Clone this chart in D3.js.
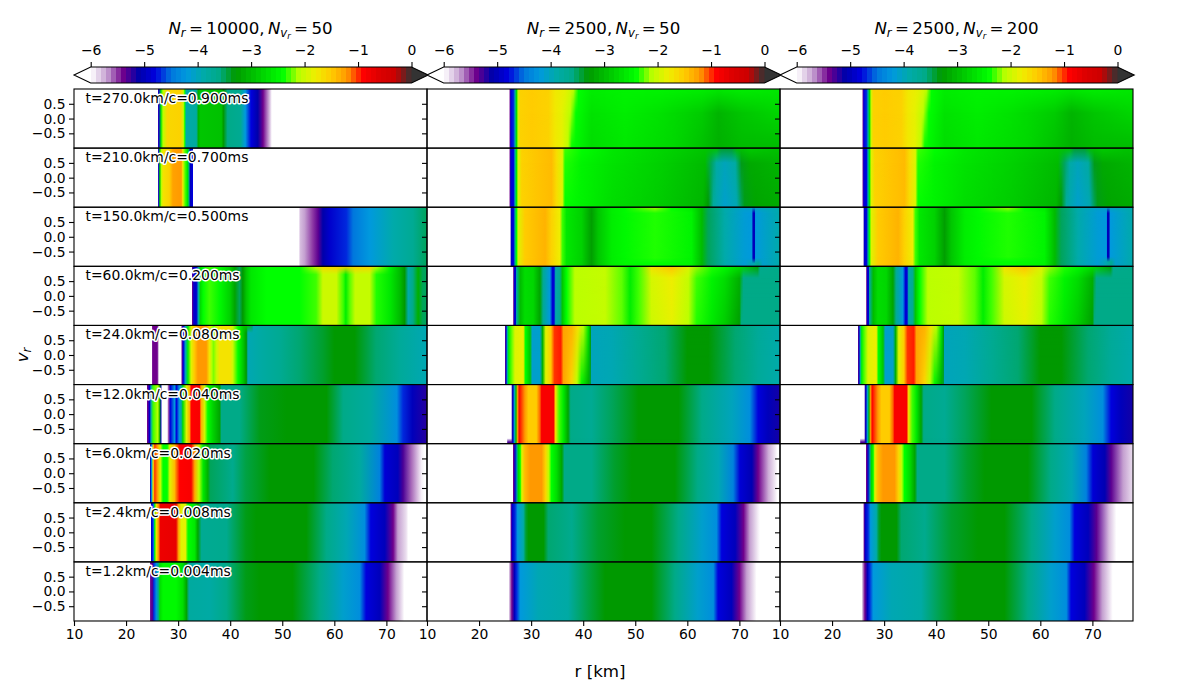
<!DOCTYPE html>
<html>
<head>
<meta charset="utf-8">
<script src="https://cdn.jsdelivr.net/npm/d3@7"></script>
<style>
  body { margin: 0; background: #fff; }
  text { font-family: "DejaVu Sans", sans-serif; }
</style>
</head>
<body>
<div id="chart"></div>
<script>
// colour map, log value -> colour
const cmapValues = [-6, -5.7, -5.4, -5.1, -4.8, -4.5, -4.2, -3.9, -3.6, -3.3, -3, -2.7, -2.4, -2.1, -1.8, -1.5, -1.2, -0.9, -0.6, -0.3, 0];
const cmapColors = ['#ffffff', '#c49fd0', '#6f008c', '#0000aa', '#0000dd', '#0077dd', '#0099dd', '#00aaaa', '#00aa88', '#009900', '#00bb00', '#00dd00', '#00ff00', '#bbff00', '#eeee00', '#ffcc00', '#ff9900', '#ff0000', '#dd0000', '#cc0000', '#333333'];

const columnTitles = [['10000', '50'], ['2500', '50'], ['2500', '200']];
const timeLabels = ['t=270.0km/c=0.900ms', 't=210.0km/c=0.700ms', 't=150.0km/c=0.500ms', 't=60.0km/c=0.200ms', 't=24.0km/c=0.080ms', 't=12.0km/c=0.040ms', 't=6.0km/c=0.020ms', 't=2.4km/c=0.008ms', 't=1.2km/c=0.004ms'];
const colorbarTicks = [-6, -5, -4, -3, -2, -1, 0];
const rTicks = [10, 20, 30, 40, 50, 60, 70];
const vrTicks = [-0.5, 0, 0.5];

// profiles: [r in km, log10 f]
// Nr=10000, Nvr=50
const a_t270 = [[26.1,-6],[26.15,-5.3],[26.3,-4.8],[26.7,-2.6],[27.1,-2.1],[27.9,-1.6],[30.5,-1.55],[31,-2],[31.3,-2.4],[31.5,-3.9],[33.5,-3.8],[33.9,-3.1],[34.3,-2.9],[38.3,-2.95],[38.7,-3.3],[39.5,-3.6],[42,-3.7],[42.9,-4.2],[44,-4.8],[45.3,-5.1],[46.3,-5.4],[47.6,-5.8],[48,-6]];
const a_t210 = [[26.1,-6],[26.15,-5.3],[26.3,-4.7],[26.45,-2.9],[26.8,-2.1],[27.1,-1.7],[28.3,-1.55],[29,-1.25],[30.6,-1.2],[30.9,-1.8],[31.4,-2.3],[31.8,-2.6],[32.1,-3.6],[32.3,-5],[32.8,-4.8],[32.9,-6]];
const a_t150 = [[53.2,-6],[53.4,-5.8],[54.3,-5.7],[55.9,-5.5],[56.9,-5.35],[57.8,-5.1],[59.1,-4.9],[62.3,-4.7],[63.6,-4.5],[66.8,-4.2],[71.3,-3.9],[75.1,-3.7],[77.8,-3.5]];
const a_t60_left = [[32.6,-6],[32.7,-5.4],[33,-4.9],[33.5,-4.9],[33.9,-3.9],[34.3,-2.7],[34.8,-2.4],[36,-2.3],[38,-2.45],[39.9,-2.8],[40.9,-3.2],[41.8,-3.5],[42.4,-3.3],[43.1,-2.9],[44,-2.6],[47,-2.4],[53.3,-2.4]];
const a_t60_top = [...a_t60_left, [56.5,-1.95],[57.8,-1.6],[60.4,-1.5],[66.8,-1.6],[68.1,-2.1],[70.7,-2.5],[72.6,-3],[73.5,-3.3],[74.2,-3.9],[75.1,-3.6],[76.1,-3.1],[77,-3.5]];
const a_t60_main = [...a_t60_left, [56.5,-2.3],[57.8,-2],[60.4,-2],[61.7,-2.3],[62.2,-2.55],[63,-2.25],[64,-2.05],[66.8,-2.05],[68.1,-2.35],[70.7,-2.6],[72.6,-3],[73.5,-3.3],[74.2,-3.9],[75.1,-3.6],[76.1,-3.1],[77,-3.5]];
const a_t24_left = [[24.9,-6],[25,-5.6],[25.1,-5.4],[26,-5.4],[26.2,-5.7],[26.3,-6],[30.6,-6],[30.7,-5.4],[31,-4.8],[31.4,-4],[31.9,-2.5],[32.5,-1.9],[33.1,-1.5],[33.8,-1.2],[35.4,-1.2],[36,-1.7],[36.4,-2.1],[36.8,-2.2],[37.4,-2],[38,-1.7],[39.9,-1.7],[40.5,-2],[41.5,-2.4],[42.5,-2.9]];
const a_t24_right = [[45.7,-3.85],[49.5,-3.7],[53.3,-3.55],[57.8,-3.4],[60,-3.3],[63.9,-3.3],[68,-3.55],[72.6,-3.75],[77.7,-3.95]];
const a_t24_top = [...a_t24_left, [43.6,-2.9],[44.2,-3.5],[44.5,-3.95], ...a_t24_right];
const a_t24_main = [...a_t24_left, [43.1,-3.3],[43.4,-3.95], ...a_t24_right];
const a_t12 = [[24,-6],[24.1,-5.4],[24.5,-4.9],[24.8,-3.9],[25.2,-2.3],[26.1,-2.1],[26.5,-3.2],[26.7,-5],[26.9,-6],[27.9,-6],[28.2,-5.5],[28.5,-4.8],[29.3,-4.2],[29.7,-4.8],[30.2,-4.2],[30.6,-3.8],[30.9,-2.7],[31.6,-1.9],[32.2,-1.3],[32.5,-0.9],[34.1,-0.85],[34.4,-1.3],[35.1,-2],[35.7,-2.4],[36.7,-2.8],[38,-3.2],[38.3,-3.6],[41.8,-3.6],[45.7,-3.35],[50.8,-3.3],[58.5,-3.3],[61.7,-3.6],[66.8,-3.8],[72,-4.3],[73.2,-4.7],[75,-5],[77.7,-5.2]];
const a_t6 = [[24.6,-6],[24.7,-5],[24.9,-4.2],[25.2,-1.8],[25.5,-1],[26.1,-1.3],[26.6,-2],[27.1,-2.4],[27.9,-2.4],[28.4,-1.9],[29.3,-1.4],[30.3,-0.9],[32.5,-0.85],[33.2,-1.3],[34,-2.1],[34.8,-2.6],[35.7,-3.1],[36.2,-3.5],[40.5,-3.65],[43,-3.45],[47.6,-3.3],[56,-3.3],[59.7,-3.55],[64.9,-3.8],[68.7,-4.4],[69.7,-4.85],[72.2,-5],[73.2,-5.3],[74.8,-5.6],[76.7,-5.95],[77.3,-6]];
const a_t2_4 = [[24.7,-6],[24.8,-5],[25,-4.8],[25.3,-4.5],[25.5,-2.4],[25.8,-1.7],[26.2,-1.2],[26.6,-0.75],[29.6,-0.7],[30.1,-1.3],[30.6,-1.9],[31.4,-1.85],[31.9,-2.4],[33.2,-2.6],[33.8,-3.2],[34.5,-3.7],[39.3,-3.65],[43,-3.35],[45,-3.3],[54.6,-3.3],[58.5,-3.6],[62.3,-3.95],[65.8,-4.3],[67,-4.8],[69.7,-5],[71.3,-5.4],[72.2,-5.7],[73.8,-5.9],[74.2,-6]];
const a_t1_2 = [[24.6,-6],[24.7,-5.4],[25.1,-5.3],[25.3,-4.7],[25.8,-4.3],[26.2,-3.7],[26.5,-2.7],[27.1,-2.45],[29.6,-2.45],[30.9,-2.7],[31.6,-3.2],[32.1,-3.8],[36,-3.85],[39.3,-3.6],[43,-3.35],[45.6,-3.3],[52,-3.3],[57.2,-3.6],[61.7,-4.1],[64.9,-4.3],[66.1,-4.8],[68.7,-5],[70.3,-5.4],[71.9,-5.7],[73.2,-5.95],[73.4,-6]];

// Nr=2500, Nvr=50
const b_t270_left = [[25.8,-6],[25.9,-5.4],[26.1,-4.8],[26.6,-4.7],[26.9,-3.9],[27.2,-2.7],[27.5,-2],[27.9,-1.55],[30.1,-1.5],[33.3,-1.55],[34.6,-1.75]];
const b_t270_top = [...b_t270_left, [36.5,-1.85],[38.1,-2.05],[39.1,-2.4],[41.6,-2.55],[48,-2.5],[54.4,-2.5],[62.8,-2.55],[66,-2.6],[70.4,-2.55],[77.9,-2.6]];
const b_t270_mid = [...b_t270_left, [35.9,-1.85],[37.5,-2.1],[38.6,-2.4],[41.6,-2.65],[48,-2.55],[54.4,-2.65],[62.8,-2.85],[66,-3.05],[70.4,-2.9],[77.9,-2.75]];
const b_t270_bot = [...b_t270_left, [35.9,-1.85],[37.1,-2.1],[37.8,-2.4],[41.6,-2.7],[48,-2.6],[57.6,-2.75],[62.8,-2.95],[66,-3.1],[70.4,-3],[77.9,-3]];
const b_t210_left = [[25.8,-6],[25.9,-5.4],[26.1,-4.85],[26.6,-4.8],[26.9,-3.9],[27.2,-2.6],[27.5,-1.9],[28.2,-1.55],[31.4,-1.45],[33.9,-1.4],[34.9,-1.65],[36,-1.9]];
const b_t210_top = [...b_t210_left, [36.5,-2.3],[39.7,-2.4],[45.5,-2.6],[54.4,-2.75],[63.4,-2.9],[65.6,-2.95],[66.5,-3.4],[68.5,-3.4],[69.5,-3],[72,-2.85],[77.9,-2.95]];
const b_t210_mid = [...b_t210_left, [36.5,-2.35],[39.7,-2.5],[45.5,-2.65],[54.4,-2.8],[63.4,-3],[64.6,-3.5],[65.6,-3.85],[67.2,-4],[69.2,-3.85],[70.4,-3.35],[72,-3.15],[77.9,-3.05]];
const b_t210_bot = [...b_t210_left, [36.5,-2.4],[45.5,-2.7],[54.4,-2.85],[63,-3.05],[64,-3.3],[65,-3.8],[67.2,-4.1],[69.5,-3.95],[71,-3.35],[73,-3.2],[77.9,-3.15]];
const b_t150_left = [[26,-6],[26.1,-5.2],[26.2,-4.9],[26.6,-4.8],[26.9,-3.7],[27.2,-2.4],[27.5,-1.9],[28.8,-1.5],[32.7,-1.35],[33.9,-1.55],[35.5,-1.8],[36,-2.3],[36.8,-2.6],[39.7,-2.8],[41.6,-3.25],[42.9,-2.9],[45.5,-2.55],[48,-2.45]];
const b_t150_top = [...b_t150_left, [53.8,-2.15],[57,-2.4],[60.8,-2.6],[62.8,-3],[64,-3.5],[67.2,-3.9],[71,-4.1],[77.9,-3.9]];
const b_t150_mid = [...b_t150_left, [53.8,-2.35],[60.8,-2.5],[62.8,-3],[64,-3.5],[67.2,-3.9],[71,-4.15],[72.4,-4.2],[72.6,-5],[72.9,-5],[73.1,-4.2],[74.5,-4.1],[77.9,-3.9]];
const b_t150_bot = [...b_t150_left, [53.8,-2.4],[60.8,-2.5],[62.8,-3],[64,-3.5],[67.2,-3.9],[71,-4.15],[72.6,-3.95],[73.6,-3.7],[74.5,-4.1],[77.9,-3.9]];
const b_t60_left = [[26.5,-6],[26.6,-5.5],[26.8,-4.9],[27,-4.9],[27.2,-3.8],[27.9,-3],[28.8,-2.7],[30.4,-2.75],[31.7,-3.2],[32.3,-3.7],[33.6,-4.2],[34.1,-4.85],[34.4,-4.85],[34.7,-3.9],[35.5,-3.7],[36,-2.9],[36.8,-2.4],[38.4,-2.1],[44.2,-2.05],[47.4,-2.25],[49,-2.55],[50.6,-2.3]];
const b_t60_top = [...b_t60_left, [53.1,-1.7],[57,-1.45],[60.2,-1.9],[64.7,-2.35],[67.2,-2.45],[70,-2.7],[73.5,-3.2],[74,-3.65],[77.9,-3.6]];
const b_t60_mid = [...b_t60_left, [53.1,-1.95],[57,-1.8],[60.2,-2.05],[61.8,-2.3],[64.7,-2.5],[67.2,-2.7],[70,-3.1],[70.8,-3.6],[77.9,-3.6]];
const b_t60_bot = [...b_t60_left, [53.1,-2],[57,-1.85],[60.2,-2.1],[61.8,-2.35],[64.7,-2.6],[67.2,-2.85],[70,-3.25],[70.4,-3.6],[77.9,-3.6]];
const b_t24_left = [[25,-6],[25.05,-5.3],[25.2,-4.8],[25.4,-3.9],[25.7,-2.5],[26.4,-2.2],[26.9,-1.9],[28.5,-1.8],[28.9,-2.4],[29.8,-2.9],[30.2,-4.1],[31.7,-4.1],[32.2,-3.1],[32.8,-1.9],[33.8,-1.5],[34.5,-1],[35.7,-0.95],[36.2,-1.25]];
const b_t24_right = [[41.5,-4],[45.5,-3.95],[50.6,-3.7],[55.7,-3.55],[60,-3.3],[64,-3.3],[69.2,-3.55],[73.6,-3.75],[77.9,-3.9]];
const b_t24_top = [...b_t24_left, [37.8,-1.35],[39,-1.7],[40,-2.1],[41,-2.6],[41.4,-3.2], ...b_t24_right];
const b_t24_bot = [...b_t24_left, [37.8,-1.6],[38.8,-2.1],[39.7,-2.5],[41,-3.1],[41.4,-3.4], ...b_t24_right];
const b_t12 = [[26.2,-6],[26.3,-5.2],[26.5,-4.9],[26.8,-4],[27.1,-3],[27.4,-1.2],[27.7,-0.9],[28.8,-1.2],[29.5,-1.5],[31,-1.5],[31.7,-1.1],[32,-0.85],[34.3,-0.85],[34.7,-1.7],[35.4,-2.3],[36.2,-2.6],[37.1,-3.2],[37.6,-3.6],[41.6,-3.7],[45.5,-3.5],[50.6,-3.3],[58.3,-3.3],[62.8,-3.6],[68.5,-4],[72,-4.3],[73.6,-4.8],[75.5,-5],[77.9,-5.15]];
const b_t12_foot = [[25.3,-6],[25.5,-5.3],[26.2,-5.3], ...b_t12.slice(2)];
const b_t6_body = [[26.5,-6],[26.6,-5.4],[26.9,-4.9],[27.3,-3.8],[27.5,-2.8],[27.9,-2.4],[28.2,-1.9],[28.8,-1.4],[29.8,-1.2],[32,-1.2],[32.8,-1.6],[33.4,-2.1],[33.9,-2.4],[34.9,-2.7],[35.9,-3.2],[36.4,-3.6],[41.6,-3.6],[46,-3.4],[49.3,-3.3],[57.6,-3.3],[62,-3.6],[66,-3.95],[68.8,-4.4],[70.1,-4.85],[72.4,-5.05]];
const b_t6_tail = [[73.6,-5.4],[75.6,-5.75],[77,-5.95],[77.3,-6]];
const b_t2_4_body = [[26,-6],[26.1,-5.4],[26.4,-4.9],[26.9,-4.7],[27.4,-4.2],[28.5,-3.9],[29,-3.4],[29.5,-3.3],[32.4,-3.3],[33.3,-3.55],[37.8,-3.65],[42.9,-3.4],[48,-3.3],[53.1,-3.3],[58.3,-3.6],[62.8,-4.1],[65.6,-4.3],[66.6,-4.8],[69.2,-5]];
const b_t2_4_tail = [[70.8,-5.4],[72,-5.7],[73.6,-5.95],[74,-6]];
const b_t1_2_body = [[25.7,-6],[25.9,-5.7],[26.3,-5.4],[26.8,-5],[27.2,-4.7],[27.9,-4.2],[31.4,-3.95],[37.1,-3.85],[41,-3.45],[44.2,-3.3],[53.1,-3.3],[57.6,-3.6],[62,-4.1],[65,-4.3],[65.9,-4.8],[68.5,-5]];
const b_t1_2_tail = [[70,-5.4],[71.4,-5.7],[73,-5.95],[73.3,-6]];

// Nr=2500, Nvr=200, the same as above except where it was read differently
const c_t150_mid = [...b_t150_left, [53.8,-2.35],[60.8,-2.5],[62.8,-3],[64,-3.5],[67.2,-3.9],[71,-4.15],[72.7,-4.2],[72.9,-5],[73.2,-5],[73.4,-4.2],[74.8,-4.1],[77.9,-3.9]];
const c_t6_tail = [[73.6,-5.35],[75.9,-5.7],[77.9,-5.9]];
const c_t2_4_tail = [[70.8,-5.35],[73.2,-5.8],[74.6,-6]];
const c_t1_2_tail = [[70.3,-5.4],[71.9,-5.7],[73.9,-6]];

// one entry per panel, each entry is [vr, profile] from the top of the panel down
const column1 = [
  [[1, a_t270]],
  [[1, a_t210]],
  [[1, a_t150]],
  [[1, a_t60_top], [0.72, a_t60_main]],
  [[1, a_t24_top], [0.75, a_t24_main]],
  [[1, a_t12]],
  [[1, a_t6]],
  [[1, a_t2_4]],
  [[1, a_t1_2]]
];
const column2 = [
  [[1, b_t270_top], [0.2, b_t270_mid], [-1, b_t270_bot]],
  [[1, b_t210_top], [0.5, b_t210_mid], [-1, b_t210_bot]],
  [[1, b_t150_top], [0.8, b_t150_mid], [-0.72, b_t150_mid], [-0.9, b_t150_bot]],
  [[1, b_t60_top], [0.6, b_t60_mid], [-1, b_t60_bot]],
  [[1, b_t24_top], [-1, b_t24_bot]],
  [[-0.82, b_t12], [-0.95, b_t12_foot]],
  [[1, [...b_t6_body, ...b_t6_tail]]],
  [[1, [...b_t2_4_body, ...b_t2_4_tail]]],
  [[1, [...b_t1_2_body, ...b_t1_2_tail]]]
];
const column3 = [
  column2[0],
  column2[1],
  [[1, b_t150_top], [0.8, c_t150_mid], [-0.68, c_t150_mid], [-0.85, b_t150_bot]],
  column2[3],
  column2[4],
  column2[5],
  [[1, [...b_t6_body, ...c_t6_tail]]],
  [[1, [...b_t2_4_body, ...c_t2_4_tail]]],
  [[1, [...b_t1_2_body, ...c_t1_2_tail]]]
];
const columns = [column1, column2, column3];

const width = 1200;
const height = 700;
const left = 74;
const top_ = 89;
const panelW = 353;
const panelH = 59.11;
const fontSize = 13.9;

const svg = d3.select('#chart').append('svg')
  .attr('width', width)
  .attr('height', height)
  .attr('viewBox', `0 0 ${width} ${height}`);
const defs = svg.append('defs');

const color = d3.scaleLinear().domain(cmapValues).range(cmapColors).clamp(true);
const x = d3.scaleLinear().domain([10, 77.8]).range([0, panelW]);
const y = d3.scaleLinear().domain([-1, 1]).range([panelH, 0]);

let gradId = 0;

function drawPanel(g, layers) {
  g.append('rect').attr('width', panelW).attr('height', panelH).attr('fill', '#fff');

  layers.forEach((layer, i) => {
    const id = gradId++;
    const grad = defs.append('linearGradient')
      .attr('id', `grad${id}`)
      .attr('gradientUnits', 'userSpaceOnUse')
      .attr('x1', 0).attr('x2', panelW).attr('y1', 0).attr('y2', 0);
    grad.selectAll('stop').data(layer[1]).join('stop')
      .attr('offset', d => x(d[0]) / panelW)
      .attr('stop-color', d => color(d[1]));

    const rect = g.append('rect')
      .attr('width', panelW).attr('height', panelH)
      .attr('fill', `url(#grad${id})`);

    // later layers fade in between the vr of the one before and their own
    if (i > 0) {
      const fade = defs.append('linearGradient')
        .attr('id', `fade${id}`)
        .attr('gradientUnits', 'userSpaceOnUse')
        .attr('x1', 0).attr('x2', 0)
        .attr('y1', y(layers[i - 1][0])).attr('y2', y(layer[0]));
      fade.append('stop').attr('offset', 0).attr('stop-color', '#000');
      fade.append('stop').attr('offset', 1).attr('stop-color', '#fff');
      defs.append('mask')
        .attr('id', `mask${id}`)
        .attr('maskUnits', 'userSpaceOnUse')
        .attr('x', 0).attr('y', 0).attr('width', panelW).attr('height', panelH)
        .append('rect')
        .attr('width', panelW).attr('height', panelH)
        .attr('fill', `url(#fade${id})`);
      rect.attr('mask', `url(#mask${id})`);
    }
  });
}

function styleAxis(sel) {
  sel.selectAll('text').attr('font-size', fontSize).attr('fill', '#000')
    .style('font-family', '"DejaVu Sans", sans-serif');
  sel.selectAll('line').attr('stroke', '#000').attr('stroke-width', 1.1);
  sel.select('.domain').remove();
}

columns.forEach((column, c) => {
  const colX = left + c * panelW;

  column.forEach((layers, r) => {
    const g = svg.append('g').attr('transform', `translate(${colX}, ${top_ + r * panelH})`);
    drawPanel(g, layers);
  });
});

// frames and axes go over all the images so that ticks land on the neighbour panel
columns.forEach((column, c) => {
  const colX = left + c * panelW;

  column.forEach((layers, r) => {
    const g = svg.append('g').attr('transform', `translate(${colX}, ${top_ + r * panelH})`);

    g.append('rect')
      .attr('width', panelW).attr('height', panelH)
      .attr('fill', 'none').attr('stroke', '#000').attr('stroke-width', 1.1);

    const yAxis = d3.axisLeft(y).tickValues(vrTicks).tickSize(5).tickPadding(3.5)
      .tickFormat(c === 0 ? d3.format('.1f') : '');
    g.append('g').call(yAxis).call(styleAxis);

    if (r === column.length - 1) {
      const xAxis = d3.axisBottom(x).tickValues(rTicks).tickSize(5).tickPadding(3.5);
      g.append('g').attr('transform', `translate(0, ${panelH})`).call(xAxis).call(styleAxis);
    }
  });
});

// time labels, first column only
timeLabels.forEach((label, r) => {
  svg.append('text')
    .attr('x', left + x(12.2))
    .attr('y', top_ + r * panelH + 14)
    .attr('font-size', fontSize)
    .attr('fill', '#000')
    .attr('stroke', '#fff')
    .attr('stroke-width', 3)
    .attr('paint-order', 'stroke')
    .attr('stroke-linejoin', 'round')
    .text(label);
});

// colour bars
const barTop = 67;
const barH = 16;
const barTip = 16.7;
const barLevels = d3.range(64);

columnTitles.forEach((title, c) => {
  const barX = left + c * panelW + barTip;
  const barW = 320.8;
  const g = svg.append('g').attr('transform', `translate(${barX}, ${barTop})`);
  const cb = d3.scaleLinear().domain([-6, 0]).range([0, barW]);
  const step = 6 / barLevels.length;

  g.selectAll('rect.band').data(barLevels).join('rect')
    .attr('class', 'band')
    .attr('x', d => cb(-6 + d * step))
    .attr('width', barW / barLevels.length + 0.5)
    .attr('height', barH)
    .attr('fill', d => color(-6 + (d + 0.5) * step))
    .attr('shape-rendering', 'crispEdges');

  g.append('path')
    .attr('d', `M0,0L${-barTip},${barH / 2}L0,${barH}Z`)
    .attr('fill', '#fff');
  g.append('path')
    .attr('d', `M${barW},0L${barW + barTip},${barH / 2}L${barW},${barH}Z`)
    .attr('fill', '#333');
  // one outline round the bar and both tips
  g.append('path')
    .attr('d', `M0,0L${barW},0L${barW + barTip},${barH / 2}L${barW},${barH}L0,${barH}L${-barTip},${barH / 2}Z`)
    .attr('fill', 'none').attr('stroke', '#000').attr('stroke-width', 1.1);

  g.append('g')
    .call(d3.axisTop(cb).tickValues(colorbarTicks).tickSize(5).tickPadding(7).tickFormat(d3.format('d')))
    .call(styleAxis);

  // title, Nr = ..., Nvr = ...
  const t = svg.append('text')
    .attr('x', left + c * panelW + panelW / 2)
    .attr('y', 34)
    .attr('text-anchor', 'middle')
    .attr('font-size', 16.67)
    .attr('fill', '#000');
  t.append('tspan').attr('font-style', 'italic').text('N');
  t.append('tspan').attr('font-style', 'italic').attr('font-size', 11.7).attr('dy', 3).text('r');
  t.append('tspan').attr('dy', -3).text(`\u2009=\u2009${title[0]},\u2009`);
  t.append('tspan').attr('font-style', 'italic').text('N');
  t.append('tspan').attr('font-style', 'italic').attr('font-size', 11.7).attr('dy', 3).text('v');
  t.append('tspan').attr('font-style', 'italic').attr('font-size', 8.5).attr('dy', 2).text('r');
  t.append('tspan').attr('dy', -5).text(`\u2009=\u2009${title[1]}`);
});

// axis labels
const vrLabel = svg.append('text')
  .attr('transform', `translate(28, ${top_ + 4.5 * panelH}) rotate(-90)`)
  .attr('text-anchor', 'middle')
  .attr('font-size', 16.67);
vrLabel.append('tspan').attr('font-style', 'italic').text('v');
vrLabel.append('tspan').attr('font-style', 'italic').attr('font-size', 11.7).attr('dy', 3).text('r');

svg.append('text')
  .attr('x', 600)
  .attr('y', 677)
  .attr('text-anchor', 'middle')
  .attr('font-size', 16.67)
  .text('r [km]');
</script>
</body>
</html>
